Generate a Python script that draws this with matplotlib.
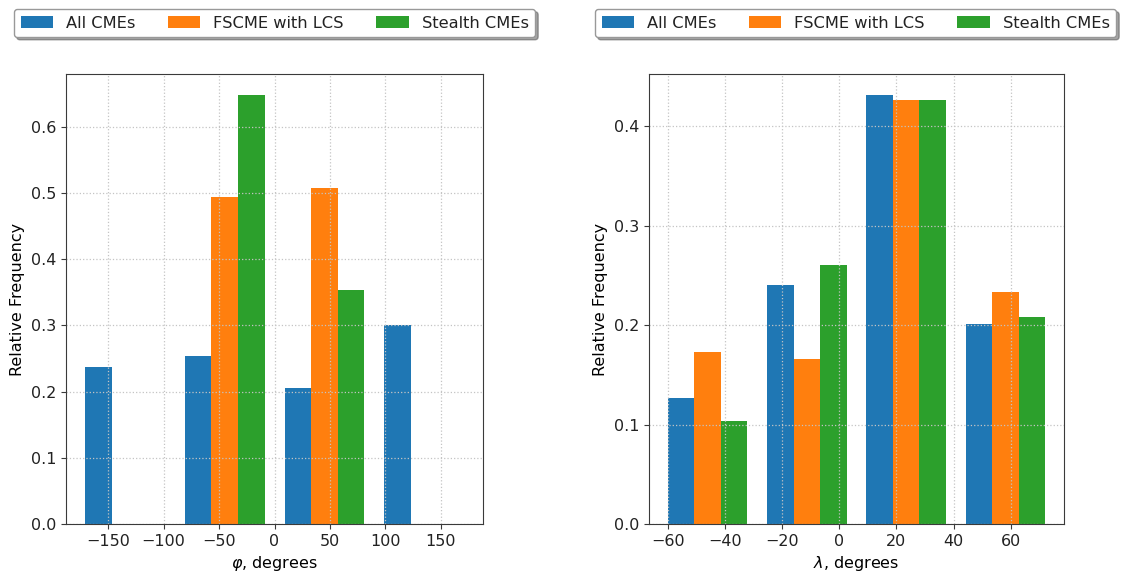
"""Relative frequency of CME source angles (phi / lambda), three populations."""
import numpy as np
import matplotlib
matplotlib.use("Agg")
import matplotlib.pyplot as plt

plt.rcParams["font.size"] = 11.5
plt.rcParams["axes.edgecolor"] = "#3a3a3a"
plt.rcParams["xtick.color"] = "#3a3a3a"
plt.rcParams["ytick.color"] = "#3a3a3a"
plt.rcParams["xtick.labelcolor"] = "#222222"
plt.rcParams["ytick.labelcolor"] = "#222222"

LABELS = ["All CMEs", "FSCME with LCS", "Stealth CMEs"]
COLORS = ["#1f77b4", "#ff7f0e", "#2ca02c"]

# phi histogram (bin edges in degrees)
PHI_EDGES = [-180, -90, 0, 90, 180]
PHI_ALL = [0.237, 0.254, 0.206, 0.300]
PHI_FSCME = [0.0, 0.493, 0.507, 0.0]
PHI_STEALTH = [0.0, 0.647, 0.353, 0.0]

# lambda histogram
LAM_EDGES = [-63.5, -28.75, 6.0, 40.75, 75.5]
LAM_ALL = [0.127, 0.240, 0.431, 0.201]
LAM_FSCME = [0.173, 0.166, 0.426, 0.233]
LAM_STEALTH = [0.104, 0.260, 0.426, 0.208]


def _grouped_hist(ax, edges, series):
    edges = np.asarray(edges, dtype=float)
    left = edges[:-1]
    bw = np.diff(edges)
    w = bw * 0.8 / len(series)
    handles = []
    for i, (vals, col, lab) in enumerate(zip(series, COLORS, LABELS)):
        h = ax.bar(left + 0.1 * bw + i * w, vals, width=w, align="edge",
                   color=col, label=lab)
        handles.append(h)
    ax.grid(True, linestyle=":", color="#c4c4c4", linewidth=0.9)
    ax.set_ylabel("Relative Frequency")
    return handles


fig = plt.figure(figsize=(11.21, 5.75), dpi=100)
ax1 = fig.add_axes([0.0589, 0.0887, 0.372, 0.7826])
ax2 = fig.add_axes([0.579, 0.0887, 0.370, 0.7826])

h1 = _grouped_hist(ax1, PHI_EDGES, [PHI_ALL, PHI_FSCME, PHI_STEALTH])
ax1.set_xlabel(r"$\varphi$, degrees")
ax1.set_xticks([-150, -100, -50, 0, 50, 100, 150])

h2 = _grouped_hist(ax2, LAM_EDGES, [LAM_ALL, LAM_FSCME, LAM_STEALTH])
ax2.set_xlabel(r"$\lambda$, degrees")
ax2.set_xticks([-60, -40, -20, 0, 20, 40, 60])

for hs, x0 in ((h1, 14 / 1121), (h2, 595 / 1121)):
    leg = fig.legend(hs, LABELS, loc="upper left",
                     bbox_to_anchor=(x0, 1 - 9 / 575),
                     bbox_transform=fig.transFigure, ncol=3, shadow=True,
                     borderaxespad=0, fontsize=11.7, edgecolor="#999999")
    for t in leg.get_texts():
        t.set_color("#222222")

fig.savefig("out.png", dpi=100)
